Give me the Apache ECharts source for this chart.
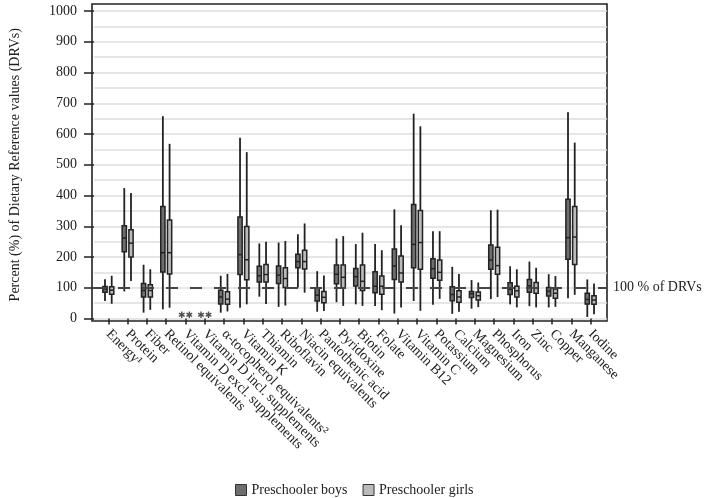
<!DOCTYPE html>
<html><head><meta charset="utf-8">
<script src="https://cdn.jsdelivr.net/npm/echarts@6/dist/echarts.min.js"></script>
<style>html,body{margin:0;padding:0;background:#fff}#c{width:708px;height:498px}</style>
</head><body><div id="c"></div>
<script>
// ---- data ----
const categories = ['Energy\u00b9','Protein','Fiber','Retinol equivalents','Vitamin D excl. supplements','Vitamin D incl. supplements','\u03b1-tocopherol equivalents\u00b2','Vitamin K','Thiamin','Riboflavin','Niacin equivalents','Pantothenic acid','Pyridoxine','Biotin','Folate','Vitamin B12','Vitamin C','Potassium','Calcium','Magnesium','Phosphorus','Iron','Zinc','Copper','Manganese','Iodine'];
// [min, Q1, median, Q3, max]
const boys = [
  [57,85,96,104,128],[88,217,262,302,424],[19,70,91,114,175],[30,151,214,364,658],null,null,
  [19,47,70,92,139],[35,143,208,330,588],[71,119,139,170,244],[38,114,141,171,247],[101,165,185,209,274],
  [22,57,76,100,154],[53,113,144,174,260],[46,106,136,163,242],[41,84,105,152,242],[16,127,171,226,355],
  [57,165,241,371,666],[45,131,162,194,284],[15,58,78,103,168],[32,68,80,88,125],[63,160,190,239,352],
  [46,78,95,116,170],[40,85,106,127,185],[36,73,89,101,144],[66,193,263,388,671],[5,47,62,82,127]
];
const girls = [
  [48,79,92,103,139],[122,200,245,289,408],[28,70,91,110,160],[35,145,214,320,568],null,null,
  [23,46,63,87,145],[46,126,191,299,541],[47,119,143,176,250],[42,101,130,165,252],[84,161,185,222,309],
  [24,51,69,88,140],[41,99,134,174,268],[41,91,121,174,279],[27,79,105,138,222],[36,119,148,203,303],
  [25,160,247,351,625],[64,124,150,190,284],[22,53,70,90,145],[37,60,74,86,117],[70,144,172,232,354],
  [36,70,90,105,160],[36,82,98,117,165],[38,66,82,96,138],[77,176,265,364,572],[14,46,60,74,114]
];
const seriesNames = ['Preschooler boys','Preschooler girls'];
const yMin = 0, yMax = 1000, yInterval = 100;
const refValue = 100;
const refLabel = '100 % of DRVs';
const starCategories = ['Vitamin D excl. supplements','Vitamin D incl. supplements'];
const starValue = 8;
const yName = 'Percent (%) of Dietary Reference values (DRVs)';

// ---- chart ----
const FONT = 'Liberation Serif';
const INK = '#222';
function toData(arr){
  const out=[];
  arr.forEach((b,i)=>{ if(b) out.push([i].concat(b)); });
  return out;
}
function makeRender(offsetFrac, fill){
  return function(params, api){
    const x = api.value(0);
    const band = api.size([1,0])[0];
    const base = api.coord([x, api.value(3)]);
    const cx = base[0] + offsetFrac*band;
    const yMinP = api.coord([x, api.value(1)])[1];
    const yQ1 = api.coord([x, api.value(2)])[1];
    const yMed = api.coord([x, api.value(3)])[1];
    const yQ3 = api.coord([x, api.value(4)])[1];
    const yMaxP = api.coord([x, api.value(5)])[1];
    const w = band*0.22;
    return {type:'group', children:[
      {type:'line', shape:{x1:cx,y1:yMaxP,x2:cx,y2:yMinP}, style:{stroke:INK,lineWidth:1.8}},
      {type:'rect', shape:{x:cx-w/2,y:yQ3,width:w,height:yQ1-yQ3}, style:{fill:fill,stroke:INK,lineWidth:1.5}},
      {type:'line', shape:{x1:cx-w/2,y1:yMed,x2:cx+w/2,y2:yMed}, style:{stroke:INK,lineWidth:1.5}}
    ]};
  };
}
const chart = echarts.init(document.getElementById('c'), null, {renderer:'canvas'});
const boysFill = '#6e6e6e', girlsFill = '#bababa';
chart.setOption({
  animation:false,
  backgroundColor:'#fff',
  grid:[
    {left:92, right:101, top:11, bottom:179.5},          // y axis + gridlines + ref line
    {left:92, right:101, top:4, bottom:177, show:true, borderColor:INK, borderWidth:1.6, backgroundColor:'transparent'}, // frame
    {left:98.7, right:107.7, top:11, bottom:179.5}        // boxes
  ],
  xAxis:[
    {gridIndex:0, type:'value', min:0, max:1, show:false},
    {gridIndex:1, type:'value', min:0, max:1, show:false},
    {gridIndex:2, type:'category', data:categories, offset:2.5,
      axisLine:{show:false},
      axisTick:{show:true, alignWithLabel:true, length:6, lineStyle:{color:INK, width:1.5}},
      axisLabel:{rotate:-45, interval:0, margin:11, fontFamily:FONT, fontSize:14, color:INK}}
  ],
  yAxis:[
    {gridIndex:0, type:'value', min:yMin, max:yMax, interval:yInterval,
      name:yName, nameLocation:'middle', nameGap:72, nameTextStyle:{fontFamily:FONT, fontSize:14, color:INK},
      axisLine:{show:false},
      axisTick:{show:true, length:10, lineStyle:{color:INK, width:1.5}},
      axisLabel:{margin:17, fontFamily:FONT, fontSize:14, color:INK, formatter:function(v){return String(v);}},
      splitLine:{show:true, lineStyle:{color:'#dedede', width:1.5}},
      minorTick:{show:false, splitNumber:2},
      minorSplitLine:{show:true, lineStyle:{color:'#dedede', width:1.5}}},
    {gridIndex:1, type:'value', min:0, max:1, show:false},
    {gridIndex:2, type:'value', min:yMin, max:yMax, show:false}
  ],
  legend:{
    data:seriesNames, top:478, left:230, icon:'rect', itemWidth:11, itemHeight:11, itemGap:15,
    itemStyle:{borderColor:'#333', borderWidth:1},
    textStyle:{fontFamily:FONT, fontSize:14, color:INK}
  },
  series:[
    {type:'line', xAxisIndex:0, yAxisIndex:0, data:[], silent:true,
      markLine:{silent:true, symbol:'none',
        lineStyle:{type:[12,12], color:'#444', width:2},
        label:{show:true, position:'end', distance:6, formatter:refLabel, fontFamily:FONT, fontSize:14, color:INK},
        data:[{yAxis:refValue}]}},
    {name:seriesNames[0], type:'custom', xAxisIndex:2, yAxisIndex:2, data:toData(boys),
      encode:{x:0, y:[1,2,3,4,5]}, itemStyle:{color:boysFill}, renderItem:makeRender(-0.174, boysFill)},
    {name:seriesNames[1], type:'custom', xAxisIndex:2, yAxisIndex:2, data:toData(girls),
      encode:{x:0, y:[1,2,3,4,5]}, itemStyle:{color:girlsFill}, renderItem:makeRender(0.174, girlsFill)},
    {type:'scatter', xAxisIndex:2, yAxisIndex:2, symbolSize:0, silent:true,
      data:starCategories.map(c=>[c, starValue]),
      label:{show:true, position:'inside', formatter:'\u2731\u2731', fontFamily:'DejaVu Sans', fontWeight:'bold', fontSize:9, color:INK}}
  ]
});
</script></body></html>
